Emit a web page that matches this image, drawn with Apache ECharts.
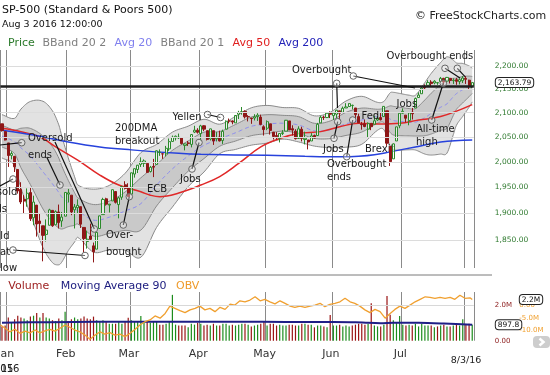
<!DOCTYPE html>
<html>
<head>
<meta charset="utf-8">
<script src="https://cdn.jsdelivr.net/npm/echarts@6.0.0/dist/echarts.min.js"></script>
<style>
html,body{margin:0;padding:0;background:#fff;}
#chart{width:550px;height:375px;}
</style>
</head>
<body>
<div id="chart"></div>
<script>
const FONT = 'DejaVu Sans';

// trading days (MM/DD), Dec 30 2015 .. Aug 3 2016
const dates = ['12/30','12/31',
'01/04','01/05','01/06','01/07','01/08','01/11','01/12','01/13','01/14','01/15','01/19','01/20','01/21','01/22','01/25','01/26','01/27','01/28','01/29',
'02/01','02/02','02/03','02/04','02/05','02/08','02/09','02/10','02/11','02/12','02/16','02/17','02/18','02/19','02/22','02/23','02/24','02/25','02/26','02/29',
'03/01','03/02','03/03','03/04','03/07','03/08','03/09','03/10','03/11','03/14','03/15','03/16','03/17','03/18','03/21','03/22','03/23','03/24','03/28','03/29','03/30','03/31',
'04/01','04/04','04/05','04/06','04/07','04/08','04/11','04/12','04/13','04/14','04/15','04/18','04/19','04/20','04/21','04/22','04/25','04/26','04/27','04/28','04/29',
'05/02','05/03','05/04','05/05','05/06','05/09','05/10','05/11','05/12','05/13','05/16','05/17','05/18','05/19','05/20','05/23','05/24','05/25','05/26','05/27','05/31',
'06/01','06/02','06/03','06/06','06/07','06/08','06/09','06/10','06/13','06/14','06/15','06/16','06/17','06/20','06/21','06/22','06/23','06/24','06/27','06/28','06/29','06/30',
'07/01','07/05','07/06','07/07','07/08','07/11','07/12','07/13','07/14','07/15','07/18','07/19','07/20','07/21','07/22','07/25','07/26','07/27','07/28','07/29',
'08/01','08/02','08/03'];

const openP = [2077,2061,2038,2013,2011,1985,1946,1927,1928,1940,1892,1916,1886,1877,1861,1878,1906,1879,1903,1886,1895,
1937,1935,1907,1911,1913,1874,1848,1858,1840,1834,1872,1898,1928,1916,1924,1942,1917,1931,1955,1948,
1937,1976,1985,1995,1997,1997,1981,1991,1995,2019,2016,2016,2026,2041,2048,2048,2049,2033,2038,2035,2060,2064,
2057,2073,2063,2046,2063,2046,2050,2043,2066,2083,2083,2079,2097,2101,2103,2092,2089,2089,2092,2091,2071,
2068,2077,2060,2053,2047,2057,2062,2083,2067,2062,2047,2066,2045,2044,2042,2053,2053,2079,2091,2090,2100,
2094,2097,2104,2101,2110,2113,2115,2110,2092,2076,2077,2066,2078,2076,2085,2090,2092,2104,2031,2006,2042,2073,
2099,2095,2084,2101,2110,2132,2140,2156,2158,2165,2163,2163,2166,2173,2167,2173,2168,2170,2166,2168,
2173,2169,2156];

const highP = [2077,2062,2038,2021,2012,1985,1960,1935,1948,1950,1934,1916,1901,1877,1889,1909,1906,1906,1917,1903,1940,
1947,1935,1918,1927,1913,1874,1868,1881,1846,1865,1896,1930,1930,1918,1946,1942,1932,1952,1962,1958,
1978,1987,1994,2009,2005,1997,1992,2006,2023,2025,2017,2032,2047,2053,2053,2057,2049,2037,2042,2056,2073,2068,
2075,2074,2063,2067,2063,2060,2063,2065,2084,2088,2084,2095,2104,2112,2105,2095,2089,2097,2099,2096,2074,
2084,2077,2060,2060,2058,2064,2085,2083,2074,2066,2072,2071,2061,2044,2058,2055,2079,2094,2094,2100,2103,
2100,2106,2104,2113,2120,2120,2117,2110,2098,2081,2086,2080,2078,2094,2093,2100,2114,2104,2031,2037,2071,2099,
2109,2095,2100,2110,2132,2143,2156,2160,2169,2169,2169,2164,2176,2174,2176,2174,2173,2174,2173,2178,
2178,2170,2164];

const lowP = [2061,2043,1990,2005,1980,1938,1918,1901,1913,1886,1878,1857,1864,1812,1848,1878,1875,1879,1872,1875,1895,
1921,1897,1872,1900,1873,1828,1835,1850,1810,1834,1872,1898,1915,1902,1924,1919,1891,1926,1946,1932,
1937,1969,1978,1990,1990,1978,1979,1970,1995,2012,2006,2011,2022,2041,2043,2046,2035,2023,2032,2029,2058,2057,
2043,2062,2043,2043,2034,2041,2041,2036,2066,2078,2076,2079,2087,2096,2088,2082,2077,2084,2083,2074,2053,
2064,2055,2045,2045,2039,2054,2062,2064,2053,2045,2047,2041,2035,2025,2042,2047,2053,2079,2085,2089,2089,
2085,2089,2086,2101,2110,2112,2107,2089,2079,2065,2070,2050,2064,2076,2083,2084,2092,2032,1992,2006,2042,2068,
2098,2080,2074,2086,2110,2132,2140,2148,2158,2156,2160,2159,2166,2159,2164,2162,2161,2159,2160,2163,
2161,2148,2152];

const closeP = [2063.4,2043.9,2012.7,2016.7,1990.3,1943.1,1922.0,1923.7,1938.7,1890.3,1921.8,1880.3,1881.3,1859.3,1869.0,1906.9,1877.1,1903.6,1883.0,1893.4,1940.2,
1939.4,1903.0,1912.5,1915.5,1880.1,1853.4,1852.2,1851.9,1829.1,1864.8,1895.6,1926.8,1917.8,1917.8,1945.5,1921.3,1929.8,1951.7,1948.1,1932.2,
1978.4,1986.5,1993.4,2000.0,2001.8,1979.3,1989.3,1989.6,2022.2,2019.6,2015.9,2027.2,2040.6,2049.6,2051.6,2049.8,2036.7,2035.9,2037.1,2055.0,2064.0,2059.7,
2072.8,2066.1,2045.2,2066.7,2041.9,2047.6,2042.0,2061.7,2082.4,2082.8,2080.7,2094.3,2100.8,2102.4,2091.5,2091.6,2087.8,2091.7,2095.2,2075.8,2065.3,
2081.4,2063.4,2051.1,2050.6,2057.1,2058.7,2084.4,2064.5,2064.1,2046.6,2066.7,2047.2,2047.6,2040.0,2052.3,2048.0,2076.1,2090.5,2090.1,2099.1,2097.0,
2099.3,2105.3,2099.1,2109.4,2112.1,2119.1,2115.5,2096.1,2079.1,2075.3,2071.5,2078.0,2071.2,2083.3,2088.9,2085.5,2113.3,2037.4,2000.5,2036.1,2070.8,2098.9,
2103.0,2088.6,2099.7,2097.9,2129.9,2137.2,2152.1,2152.4,2163.8,2161.7,2166.9,2163.8,2173.0,2165.2,2175.0,2168.5,2169.2,2166.6,2170.1,2173.6,
2170.8,2157.0,2163.79];

// volume in thousands
const volume = [800,850,1300,1050,1200,1400,1300,1250,1150,1350,1400,1550,1300,1550,1300,1250,1150,1100,1250,1150,1620,
1100,1200,1300,1200,1250,1350,1250,1200,1350,1150,1100,1150,1050,950,950,950,1050,950,1050,1290,
1150,1050,1050,1380,1100,1100,1000,1100,1050,900,900,950,1050,2570,900,850,850,850,750,950,900,1000,
950,850,900,850,950,850,850,950,950,850,900,850,900,950,950,900,800,850,900,950,1050,
850,950,950,850,900,850,850,900,900,850,850,950,950,900,900,750,850,850,800,750,1440,
850,850,900,800,850,800,850,900,950,950,900,950,2100,850,800,800,900,2500,1450,1150,1050,1380,
900,850,900,850,950,800,950,850,850,850,750,800,850,900,800,800,850,900,850,1200,
900,950,900];

const priceTicks = [1850,1900,1950,2000,2050,2100,2150,2200];
const monthNames = ['Jan','Feb','Mar','Apr','May','Jun','Jul','Aug','Sep','Oct','Nov','Dec'];
const resistanceLevel = 2156;

// Bollinger bands (20,2) and (20,1) read at sample days (day index)
const bbIdx = [0,4,6,9,13,16,18,19,21,23,24,29,34,39,44,49,54,59,64,69,74,79,84,89,94,99,104,109,114,119,121,123,124,126,129,131,134,136,139,141,143,144,146,148,149];
const bbUpper2 = [2096,2088.4,2107.6,2123.7,2124.0,2104.0,2074.9,2051.0,2008.0,1970.7,1954.8,1946.6,1953.8,1977.4,2018.4,2035.0,2059.9,2072.2,2086.4,2076.3,2092.5,2110.3,2115.3,2110.9,2109.2,2093.6,2101.0,2124.6,2134.5,2121.8,2123.8,2142.0,2143.0,2140.7,2137.0,2136.9,2164.0,2183.6,2207.6,2219.9,2212.7,2206.4,2205.3,2199.9,2195.1];
const bbUpper1 = [2074,2064.4,2067.9,2067.6,2052.2,2030.4,2007.6,1991.0,1963.8,1939.8,1930.0,1917.1,1923.5,1941.1,1968.6,1994.8,2023.0,2042.0,2059.8,2061.3,2075.6,2091.1,2095.9,2094.6,2091.9,2078.1,2082.9,2100.8,2109.7,2107.3,2109.1,2114.4,2113.4,2111.4,2108.8,2108.6,2126.9,2141.1,2159.6,2169.3,2173.2,2173.3,2177.1,2177.8,2177.0];
const bbMid = [2052,2040.4,2028.2,2011.5,1980.4,1956.8,1940.3,1931.0,1919.6,1908.9,1905.2,1887.6,1893.2,1904.8,1918.8,1954.6,1986.1,2011.8,2033.2,2046.3,2058.7,2071.9,2076.5,2078.3,2074.6,2062.6,2064.8,2077.0,2084.9,2092.8,2094.4,2086.8,2083.8,2082.1,2080.6,2080.3,2089.8,2098.6,2111.6,2118.7,2133.7,2140.2,2148.9,2155.7,2158.9];
const bbLower1 = [2030,2016.4,1988.5,1955.4,1908.6,1883.2,1873.0,1871.0,1875.4,1878.0,1880.4,1858.1,1862.9,1868.5,1869.0,1914.4,1949.2,1981.6,2006.6,2031.3,2041.8,2052.7,2057.1,2062.0,2057.3,2047.1,2046.7,2053.2,2060.1,2078.3,2079.7,2059.2,2054.2,2052.8,2052.4,2052.0,2052.7,2056.1,2063.6,2068.1,2094.2,2107.1,2120.7,2133.6,2140.8];
const bbLower2 = [2008,1992.4,1948.8,1899.3,1836.8,1809.6,1805.7,1811.0,1831.2,1847.1,1855.6,1828.6,1832.6,1832.2,1819.2,1874.2,1912.3,1951.4,1980.0,2016.3,2024.9,2033.5,2037.7,2045.7,2040.0,2031.6,2028.6,2029.4,2035.3,2063.8,2065.0,2031.6,2024.6,2023.5,2024.2,2023.7,2015.6,2013.6,2015.6,2017.5,2054.7,2074.0,2092.5,2111.5,2122.7];

const ma50Idx = [0,6,12,17,24,31,37,44,47,50,56,63,69,75,82,88,94,101,107,113,120,126,132,139,149];
const ma50Val = [2067.7,2060.7,2050.5,2030,2003.6,1974,1954.5,1941.5,1935,1932,1939,1954.5,1971,1997,2030,2047,2057,2061,2071,2078,2076.5,2078,2085,2092,2117];
const ma200Idx = [0,10,21,31,41,56,63,84,96,107,113,118,123,131,139,149];
const ma200Val = [2064,2054,2040,2030,2024,2017,2015,2013,2011,2010,2011,2014,2020,2030,2040,2044];

const ma90Idx = [0,15,30,45,60,75,90,105,112,116,120,124,132,140,149];
const ma90Val = [1010,1040,1060,1065,1065,1060,1055,1045,1030,1000,985,1005,1000,960,898];

const obvIdx = [-0.5,1.0,2.5,4.1,5.7,7.3,8.9,10.5,12.0,13.6,15.2,16.8,18.4,20.0,21.5,23.1,24.7,26.3,27.9,29.5,31.1,32.6,34.2,35.8,37.4,39.0,40.6,42.2,43.7,45.3,46.9,48.5,50.1,51.7,53.2,54.8,56.4,58.0,59.6,61.2,62.7,64.3,65.9,67.5,69.1,70.7,72.3,73.8,75.4,77.0,78.6,80.2,81.8,83.3,84.9,86.5,88.1,89.7,91.3,92.8,94.4,96.0,97.6,99.2,100.8,102.3,103.9,105.5,107.1,108.7,110.3,111.8,113.4,115.0,116.6,118.2,119.8,121.4,123.0,124.5,126.1,127.7,129.3,130.9,132.5,134.1,135.6,137.2,138.8,140.4,142.0,143.5,145.1,146.7,148.3,149.0];
const obvVal = [-7.9,-9.2,-10.6,-9.6,-11.2,-10.3,-11.0,-9.9,-11.0,-10.2,-9.6,-10.3,-9.2,-7.9,-8.8,-9.9,-10.6,-11.9,-13.6,-11.9,-10.6,-11.5,-10.9,-11.9,-11.5,-12.5,-11.2,-9.6,-7.9,-6.6,-5.9,-4.3,-5.2,-3.3,-0.4,-1.3,-2.2,-3.0,-1.9,-1.3,-0.4,-1.9,-1.3,-2.6,-0.9,-1.7,0.4,0.0,1.7,1.3,2.0,3.3,1.7,2.3,1.3,0.5,1.7,0.7,-0.4,-0.9,-0.4,-0.9,-0.4,0.0,0.7,-0.6,0.3,0.7,1.3,2.7,1.3,0.7,-0.4,-1.9,-3.0,-1.7,-2.6,-5.2,-3.3,-1.7,-0.4,-1.3,0.0,1.3,2.3,3.3,3.1,2.7,3.1,2.7,3.1,2.3,3.9,2.7,2.9,2.2];

// ---------- build ----------
const N = dates.length;
const pairs = (xs, ys) => xs.map((x, i) => [x, ys[i]]);
const monthOf = i => +dates[i].slice(0, 2);
const isMonthStart = i => i === 0 || (i < N && monthOf(i) !== monthOf(i - 1));
const showMonthLabel = i => i > 0 && i < N && monthOf(i) !== monthOf(i - 1) && monthOf(i) <= 7;
const fmtPrice = v => v.toLocaleString('en-US', {minimumFractionDigits: 2, maximumFractionDigits: 2});

const GL = 0.4, GW = 473.4;
const UP = '#2b8a2b', DOWN = '#8e1717';

const candleData = dates.map((d, i) => [openP[i], closeP[i], lowP[i], highP[i]]);
const volData = volume.map((v, i) => {
  const prev = i ? closeP[i - 1] : openP[i];
  return {value: v, itemStyle: {color: closeP[i] >= prev ? '#1c8c1c' : '#9a1414'}};
});

const hiddenValX = (grid) => ({type: 'value', gridIndex: grid, min: -0.5, max: N - 0.5, show: false});
const monthSplit = {show: true, interval: (i) => isMonthStart(i), lineStyle: {color: '#8a8a8a', width: 1}};

// smooth a pixel polyline (monotone in x) with cubic Hermite segments
function smoothPts(p) {
  const n = p.length, m = [];
  for (let i = 0; i < n; i++) {
    const a = p[Math.max(0, i - 1)], b = p[Math.min(n - 1, i + 1)];
    m.push((b[1] - a[1]) / ((b[0] - a[0]) || 1));
  }
  const out = [p[0]];
  for (let i = 0; i < n - 1; i++) {
    const h = p[i + 1][0] - p[i][0];
    for (let s = 1; s <= 8; s++) {
      const t = s / 8, t2 = t * t, t3 = t2 * t;
      const y = (2*t3 - 3*t2 + 1) * p[i][1] + (t3 - 2*t2 + t) * h * m[i] + (-2*t3 + 3*t2) * p[i+1][1] + (t3 - t2) * h * m[i+1];
      out.push([p[i][0] + t * h, y]);
    }
  }
  return out;
}

function renderBands(params, api) {
  const c = arr => smoothPts(bbIdx.map((x, i) => api.coord([x, arr[i]])));
  const u2 = c(bbUpper2), u1 = c(bbUpper1), l1 = c(bbLower1), l2 = c(bbLower2), mid = c(bbMid);
  const poly = (a, b, fill) => ({type: 'polygon', shape: {points: a.concat(b.slice().reverse())}, style: {fill, stroke: null}, silent: true});
  const pl = (pts, style) => ({type: 'polyline', shape: {points: pts}, style: Object.assign({fill: null}, style), silent: true});
  return {type: 'group', children: [
    poly(u2, l2, '#e2e2e2'),
    poly(u1, l1, '#c9c9c9'),
    pl(u2, {stroke: '#8a8a8a', lineWidth: 1}),
    pl(l2, {stroke: '#8a8a8a', lineWidth: 1}),
    pl(u1, {stroke: '#8a8a8a', lineWidth: 1}),
    pl(l1, {stroke: '#8a8a8a', lineWidth: 1}),
    pl(mid, {stroke: '#8c8cf0', lineWidth: 1, lineDash: [4, 3]})
  ]};
}

// ---------- graphic annotations ----------
const G = [];
function txt(s, x, y, size, color, align, z) {
  G.push({type: 'text', x, y, z: z == null ? 100 : z, silent: true,
    style: {text: s, font: size + 'px "' + FONT + '"', fill: color,
      align: align || 'left', verticalAlign: 'middle', textAlign: align || 'left', textVerticalAlign: 'middle'}});
}
function ln(x1, y1, x2, y2, w, c) {
  G.push({type: 'line', z: 100, silent: true, shape: {x1, y1, x2, y2}, style: {stroke: c || '#111', lineWidth: w || 1.2}});
}
function circ(cx, cy) {
  G.push({type: 'circle', z: 101, silent: true, shape: {cx, cy, r: 3.3}, style: {stroke: '#666', lineWidth: 1, fill: 'rgba(255,255,255,0.35)'}});
}

// header
txt('SP-500 (Standard & Poors 500)', 2, 10, 11, '#111');
txt('Aug 3 2016 12:00:00', 2, 25, 9.5, '#111');
txt('\u00A9 FreeStockCharts.com', 415, 16, 11, '#222');
txt('Price', 8, 43.5, 11, '#2b7a2b');
txt('BBand 20 2', 42.5, 43.5, 11, '#7f7f7f');
txt('Avg 20', 114.5, 43.5, 11, '#8080ee');
txt('BBand 20 1', 160.5, 43.5, 11, '#7f7f7f');
txt('Avg 50', 232.5, 43.5, 11, '#e01e1e');
txt('Avg 200', 278.5, 43.5, 11, '#2323b8');
// lower panel legend
txt('Volume', 8.3, 286, 11, '#9b1b1b');
txt('Moving Average 90', 60.7, 286, 11, '#1a1a7e');
txt('OBV', 176, 286, 11, '#ee9a2a');
// dates
txt('8/3/16', 466, 361, 9.5, '#222', 'center');
txt('2015', -12, 369, 10, '#222');
txt('2016', -6, 369, 10, '#222');

// annotation texts
const AF = 10, AC = '#1a1a1a';
txt('Oversold', 28, 138, AF, AC); txt('ends', 28, 155, AF, AC);
txt('Oversold', -5, 192, AF, AC, 'center'); txt('ends', -5, 209, AF, AC, 'center');
txt('Held', 9.5, 236, AF, AC, 'right'); txt('at', 0, 252, AF, AC); txt('low', 0, 268, AF, AC);
txt('Over-', 106, 235, AF, AC); txt('bought', 106, 252, AF, AC);
txt('200DMA', 115, 128, AF, AC); txt('breakout', 115, 141, AF, AC);
txt('ECB', 147, 189, AF, AC);
txt('Yellen', 172.5, 117, AF, AC);
txt('Jobs', 180, 179, AF, AC);
txt('Overbought', 292, 70, AF, AC);
txt('Jobs', 323, 149, AF, AC);
txt('Overbought', 327, 164, AF, AC); txt('ends', 327, 177, AF, AC);
txt('Fed', 361.5, 116, AF, AC);
txt('Brexit', 365, 149, AF, AC, 'left', 3);
txt('Jobs', 396.5, 104, AF, AC);
txt('All-time', 416, 129, AF, AC); txt('high', 416, 142.5, AF, AC);
txt('Overbought ends', 386.5, 56, AF, AC);

// pointer lines
[[0,145,21.7,142.7],[0,186,13,179],[13,250,85,255.5],[55,142,94.3,229],[46.7,157,60,185],
 [123.3,225,129.3,196.7],[207.5,114.5,220.5,117.5],[192,169,199,142.5],[336.7,83.3,337.5,108],
 [334,138.3,337.7,121.7],[346.7,156.7,352.7,120],[353.3,76,415,88],[431.7,120,443.3,83.3],
 [445,68.3,460,78],[457.3,68.3,465,76.7]].forEach(a => ln(a[0], a[1], a[2], a[3]));
[[21.7,142.7],[13,179],[13,250],[85,255.5],[60,185],[94.3,229],[123.3,225],[129.3,196.7],
 [207.5,114.5],[220.5,117.5],[192,169],[199,142.5],[336.7,83.3],[337.7,121.7],[334,138.3],
 [346.7,156.7],[352.7,120],[353.3,76],[431.7,120],[443.3,83.3],[445,68.3],[457.3,68.3]].forEach(a => circ(a[0], a[1]));

// panel separator and nav button
ln(0, 275, 492, 275, 1, '#7a7a7a');
G.push({type: 'rect', z: 100, silent: true, shape: {x: 533, y: 336, width: 17, height: 12, r: 4}, style: {fill: '#cdcdcd'}});
G.push({type: 'polyline', z: 101, silent: true, shape: {points: [[539.5, 338.5], [543.5, 342], [539.5, 345.5]]}, style: {stroke: '#fff', lineWidth: 2.5, fill: null}});

const boxLabel = (text, dist) => ({
  show: true, position: 'end', formatter: text, distance: dist,
  backgroundColor: '#fff', borderColor: '#222', borderWidth: 1, borderRadius: 3,
  padding: [1, 2, 0, 2], fontSize: 7.5, color: '#111', fontFamily: FONT
});

const option = {
  animation: false,
  backgroundColor: '#fff',
  textStyle: {fontFamily: FONT},
  grid: [
    {left: GL, width: GW, top: 50, height: 218, containLabel: false, outerBoundsMode: 'none'},
    {left: GL, width: GW, top: 292, height: 48.7, containLabel: false, outerBoundsMode: 'none'},
    {left: GL, width: GW, top: 292.5, height: 50.4, containLabel: false, outerBoundsMode: 'none'}
  ],
  xAxis: [
    {type: 'category', gridIndex: 0, data: dates, boundaryGap: true,
     axisLine: {show: false}, axisTick: {show: false}, axisLabel: {show: false}, splitLine: monthSplit},
    hiddenValX(0),
    {type: 'category', gridIndex: 1, data: dates, boundaryGap: true,
     axisLine: {show: false}, axisTick: {show: false}, splitLine: monthSplit,
     axisLabel: {show: true, interval: (i) => showMonthLabel(i), formatter: (v) => monthNames[+v.slice(0, 2) - 1],
       fontSize: 11, color: '#333', margin: 8, padding: [0, 5, 0, 0], fontFamily: FONT}},
    hiddenValX(1),
    hiddenValX(2)
  ],
  yAxis: [
    {type: 'log', logBase: 10, gridIndex: 0, min: 1800, max: 2235, position: 'right',
     axisLine: {show: false}, axisTick: {show: false}, splitLine: {show: false},
     axisLabel: {customValues: priceTicks, formatter: fmtPrice, color: '#2f7a2f', fontSize: 7.5, margin: 21, align: 'left', fontFamily: FONT}},
    {type: 'value', gridIndex: 1, min: 0, max: 2730, interval: 2000, position: 'right',
     axisLine: {show: false}, axisTick: {show: false}, splitLine: {show: false},
     axisLabel: {showMaxLabel: false, formatter: v => v === 0 ? '0.00' : (v / 1000).toFixed(1) + 'M', color: '#8b1a1a', fontSize: 7, margin: 21, align: 'left', fontFamily: FONT}},
    {type: 'value', gridIndex: 2, min: -15, max: 5, interval: 5, position: 'right',
     axisLine: {show: false}, axisTick: {show: false}, splitLine: {show: false},
     axisLabel: {showMaxLabel: false, showMinLabel: false, formatter: v => v === 0 ? '0.00' : v.toFixed(1) + 'M', color: '#f0a030', fontSize: 7, margin: 45.5, align: 'left', fontFamily: FONT}}
  ],
  series: [
    // horizontal price gridlines
    {name: 'grid', type: 'line', xAxisIndex: 1, yAxisIndex: 0, data: [], z: 0, silent: true,
     markLine: {silent: true, symbol: ['none', 'none'], label: {show: false},
       lineStyle: {color: '#dcdcdc', width: 1, type: 'solid'}, data: priceTicks.map(v => ({yAxis: v}))}},
    // Bollinger bands (fills + lines + Avg 20)
    {name: 'bbands', type: 'custom', xAxisIndex: 1, yAxisIndex: 0, data: [[0, 2000]], encode: {x: 0, y: 1},
     renderItem: renderBands, z: 1, silent: true, clip: true},
    {name: 'avg50', type: 'line', xAxisIndex: 1, yAxisIndex: 0, data: pairs(ma50Idx, ma50Val), smooth: 0.4, symbol: 'none',
     lineStyle: {color: '#e02828', width: 1.5}, z: 3, silent: true},
    {name: 'avg200', type: 'line', xAxisIndex: 1, yAxisIndex: 0, data: pairs(ma200Idx, ma200Val), smooth: 0.4, symbol: 'none',
     lineStyle: {color: '#2742dc', width: 1.5}, z: 3, silent: true,
     markLine: {silent: true, symbol: ['none', 'none'], label: {show: false},
       lineStyle: {color: '#1e1e1e', width: 2.5, type: 'solid'}, data: [{yAxis: resistanceLevel}]}},
    {name: 'price', type: 'candlestick', xAxisIndex: 0, yAxisIndex: 0, data: candleData, barWidth: 2.6, z: 4, silent: true,
     itemStyle: {color: 'rgba(255,255,255,0.55)', borderColor: UP, color0: DOWN, borderColor0: DOWN, borderWidth: 1},
     markLine: {silent: true, symbol: ['none', 'none'], lineStyle: {color: 'rgba(0,0,0,0)', width: 0},
       label: boxLabel(fmtPrice(closeP[N - 1]), 22), data: [{yAxis: closeP[N - 1]}]}},
    // lower panel
    {name: 'volume', type: 'bar', xAxisIndex: 2, yAxisIndex: 1, data: volData, barWidth: 1.2, z: 2, silent: true,
     markLine: {silent: true, symbol: ['none', 'none'], label: {show: false},
       lineStyle: {color: '#d8d8d8', width: 1, type: 'solid'}, data: [{yAxis: 2000}]}},
    {name: 'ma90', type: 'line', xAxisIndex: 3, yAxisIndex: 1, data: pairs(ma90Idx, ma90Val), smooth: 0.3, symbol: 'none',
     lineStyle: {color: '#1f1f86', width: 2}, z: 3, silent: true,
     markLine: {silent: true, symbol: ['none', 'none'], lineStyle: {color: 'rgba(0,0,0,0)', width: 0},
       label: boxLabel('897.8', 22), data: [{yAxis: 897.8}]}},
    {name: 'obv', type: 'line', xAxisIndex: 4, yAxisIndex: 2, data: pairs(obvIdx, obvVal), symbol: 'none',
     lineStyle: {color: '#f0a030', width: 1.3}, z: 4, silent: true,
     markLine: {silent: true, symbol: ['none', 'none'], lineStyle: {color: 'rgba(0,0,0,0)', width: 0},
       label: boxLabel('2.2M', 46), data: [{yAxis: 2.2}]}}
  ],
  graphic: {elements: G}
};

const chart = echarts.init(document.getElementById('chart'), null, {renderer: 'canvas', width: 550, height: 375});
chart.setOption(option);
</script>
</body>
</html>
